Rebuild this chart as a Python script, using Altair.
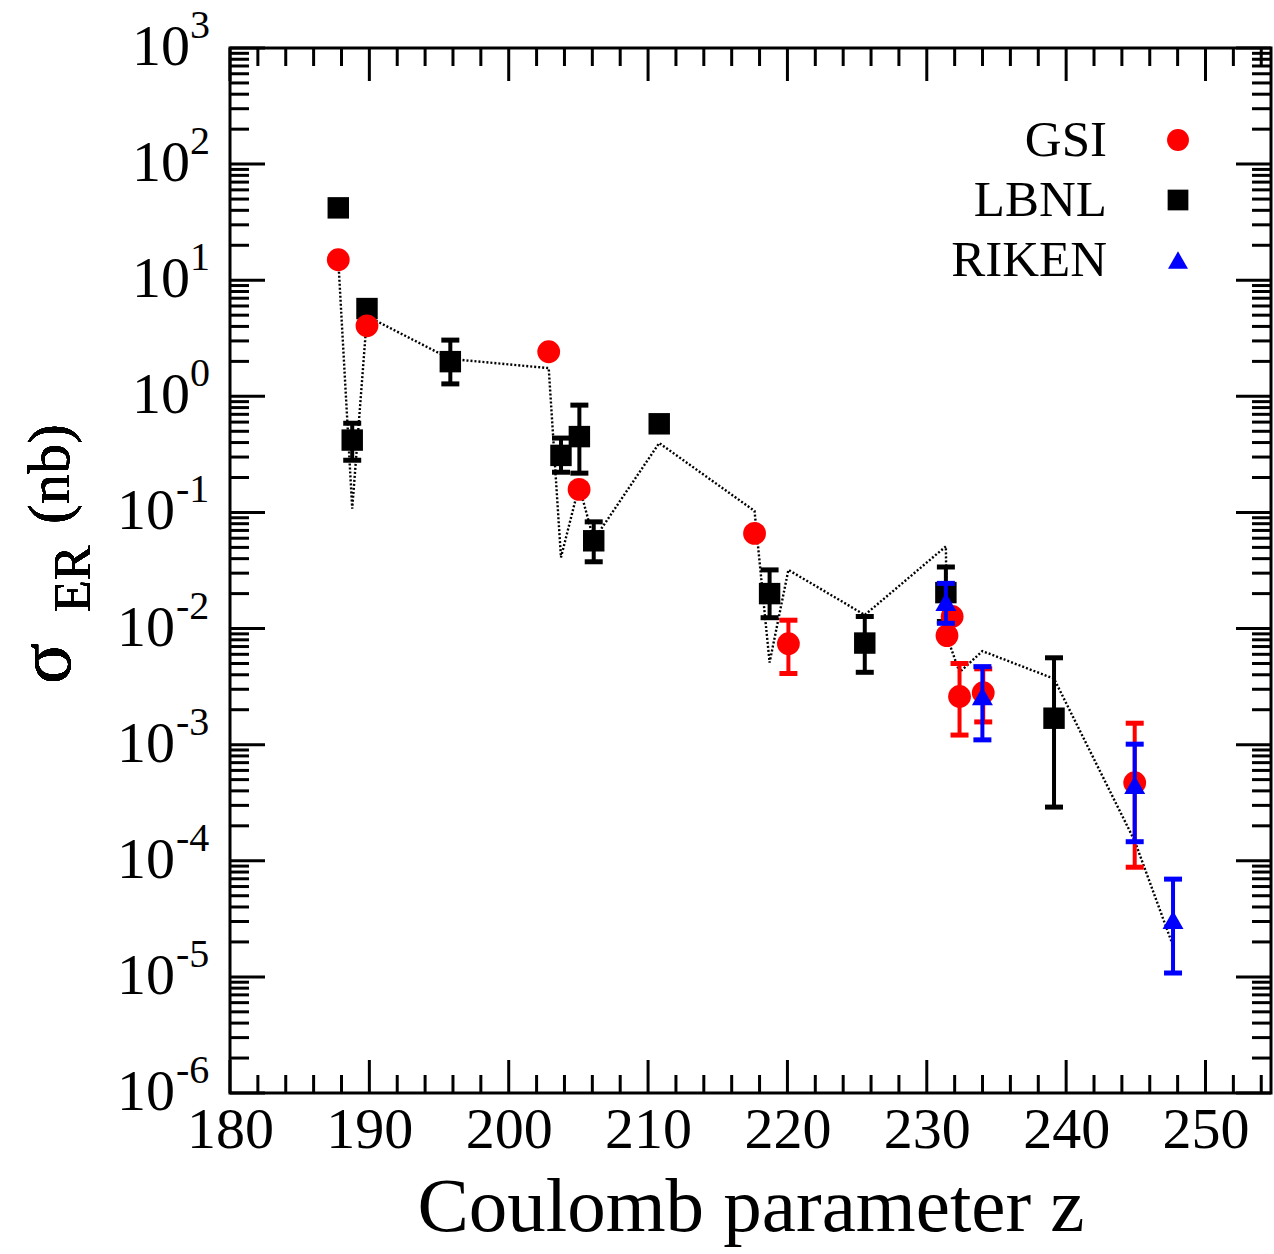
import altair as alt
import pandas as pd

# ---------------- data ----------------
gsi_z = [187.77, 189.83, 202.87, 205.05, 217.64, 220.07, 231.45, 231.82, 232.35, 234.05, 244.92]
gsi_sigma = [15.0, 4.05, 2.42, 0.158, 0.066, 0.0074, 0.0087, 0.0127, 0.0026, 0.0028, 0.00047]
gsi_lo = [None, None, None, None, None, 0.0041, None, None, 0.00121, 0.00157, 8.8e-5]
gsi_hi = [None, None, None, None, None, 0.0118, None, None, 0.0050, 0.0045, 0.00153]

lbnl_z = [187.77, 188.77, 189.83, 195.81, 203.75, 205.07, 206.1, 210.8, 218.72, 225.55, 231.37, 239.13]
lbnl_sigma = [42.0, 0.42, 5.7, 1.99, 0.31, 0.45, 0.057, 0.58, 0.0200, 0.0075, 0.0204, 0.00169]
lbnl_lo = [None, 0.282, None, 1.28, 0.222, 0.218, 0.0376, None, 0.0124, 0.0042, 0.0115, 0.00029]
lbnl_hi = [None, 0.585, None, 3.05, 0.437, 0.84, 0.083, None, 0.032, 0.0127, 0.0339, 0.0056]

riken_z = [231.37, 233.99, 244.92, 247.67]
riken_sigma = [0.0170, 0.00262, 0.00045, 3.1e-5]
riken_lo = [0.0111, 0.0011, 0.000146, 1.08e-5]
riken_hi = [0.0245, 0.0047, 0.00101, 6.95e-5]

theory_z = [187.77, 188.77, 189.83, 195.81, 202.87, 203.75, 205.05, 206.1, 210.8, 217.64,
            218.72, 220.07, 225.55, 231.37, 231.45, 232.35, 233.99, 239.13, 244.92, 247.67]
theory_sigma = [15.0, 0.108, 4.9, 2.1, 1.75, 0.041, 0.17, 0.058, 0.396, 0.103,
                0.0051, 0.032, 0.0131, 0.051, 0.0085, 0.0042, 0.0064, 0.0037, 0.000148, 1.85e-5]

x_major = [180, 190, 200, 210, 220, 230, 240, 250]
x_minor = [v for v in range(182, 255, 2) if v % 10 != 0]
y_exponents = [3, 2, 1, 0, -1, -2, -3, -4, -5, -6]
y_minor = [m * 10.0 ** k for k in range(-6, 3) for m in range(2, 10)]

legend_names = ["GSI", "LBNL", "RIKEN"]

# ---------------- layout ----------------
W, H = 1041, 1045
FONT = "Liberation Serif"
RED, BLACK, BLUE = "#ff0000", "#000000", "#0000ff"

xs = alt.Scale(domain=[180, 254.7], nice=False, zero=False)
ys = alt.Scale(type="log", domain=[1e-6, 1e3], nice=False)

x_axis = alt.Axis(values=x_major, format="d", labelFont=FONT, labelFontSize=58,
                  labelColor="black", labelPadding=8, labelFlush=False, labelOverlap=False,
                  ticks=False, domain=False, grid=False,
                  title="Coulomb parameter z", titleFont=FONT, titleFontSize=77,
                  titleFontWeight="normal", titleColor="black", titleY=137,
                  titleBaseline="alphabetic")


def X(field):
    return alt.X(field, type="quantitative", scale=xs, axis=x_axis)


def Y(field):
    return alt.Y(field, type="quantitative", scale=ys, axis=None)


def series_df(z, s, lo, hi):
    return pd.DataFrame({"z": z, "sigma": s, "lo": lo, "hi": hi})


def series_layers(df, color, shape, size):
    err = df.dropna(subset=["lo", "hi"])
    bars = alt.Chart(err).mark_rule(color=color, strokeWidth=4).encode(
        x=X("z"), y=Y("lo"), y2="hi")
    caps = alt.Chart(err).transform_fold(["lo", "hi"], as_=["k", "val"]).mark_tick(
        color=color, orient="horizontal", size=18, thickness=5, opacity=1).encode(
        x=X("z"), y=Y("val"))
    pts = alt.Chart(df).mark_point(shape=shape, filled=True, opacity=1, size=size,
                                   color=color).encode(x=X("z"), y=Y("sigma"))
    return [bars, caps, pts]


gsi = series_df(gsi_z, gsi_sigma, gsi_lo, gsi_hi)
lbnl = series_df(lbnl_z, lbnl_sigma, lbnl_lo, lbnl_hi)
riken = series_df(riken_z, riken_sigma, riken_lo, riken_hi)
theory = pd.DataFrame({"z": theory_z, "sigma": theory_sigma})

# ---------------- ticks (inward, all four sides) ----------------
xmaj = pd.DataFrame({"v": x_major})
xmin = pd.DataFrame({"v": x_minor})
ymaj = pd.DataFrame({"v": [10.0 ** k for k in y_exponents]})
ymin = pd.DataFrame({"v": y_minor})

tick_layers = []
for d, ln in [(xmaj, 33), (xmin, 18)]:
    tick_layers.append(alt.Chart(d).mark_rule(color="black", strokeWidth=3).encode(
        x=X("v"), y=alt.value(H), y2=alt.value(H - ln)))
    tick_layers.append(alt.Chart(d).mark_rule(color="black", strokeWidth=3).encode(
        x=X("v"), y=alt.value(0), y2=alt.value(ln)))
for d, ln in [(ymaj, 35), (ymin, 19)]:
    tick_layers.append(alt.Chart(d).mark_rule(color="black", strokeWidth=3).encode(
        y=Y("v"), x=alt.value(0), x2=alt.value(ln)))
    tick_layers.append(alt.Chart(d).mark_rule(color="black", strokeWidth=3).encode(
        y=Y("v"), x=alt.value(W), x2=alt.value(W - ln)))

# ---------------- y tick labels 10^k ----------------
ylab = pd.DataFrame({"v": [10.0 ** k for k in y_exponents],
                     "e": [str(k) for k in y_exponents],
                     "pos": [k >= 0 for k in y_exponents]})
ylab_pos = ylab[ylab["pos"]]
ylab_neg = ylab[~ylab["pos"]]

label_layers = []
for d, x_ten, x_exp in [(ylab_pos, -40, -40), (ylab_neg, -55, -54)]:
    label_layers.append(alt.Chart(d).mark_text(
        align="right", baseline="middle", font=FONT, fontSize=58, color="black").encode(
        y=Y("v"), x=alt.value(x_ten), text=alt.value("10")))
    label_layers.append(alt.Chart(d).mark_text(
        align="left", baseline="middle", font=FONT, fontSize=40, color="black", dy=-22).encode(
        y=Y("v"), x=alt.value(x_exp), text="e:N"))

# ---------------- y axis title: sigma_ER (nb) ----------------
title_layers = [
    alt.Chart(ymaj).mark_text(align="left", baseline="alphabetic", angle=270, font=FONT,
                              fontSize=76, color="black").encode(
        x=alt.value(-160), y=alt.value(636), text=alt.value("σ")),
    alt.Chart(ymaj).mark_text(align="left", baseline="alphabetic", angle=270, font=FONT,
                              fontSize=52, color="black").encode(
        x=alt.value(-140), y=alt.value(564), text=alt.value("ER")),
    alt.Chart(ymaj).mark_text(align="left", baseline="alphabetic", angle=270, font=FONT,
                              fontSize=60, color="black").encode(
        x=alt.value(-161), y=alt.value(476), text=alt.value("(nb)")),
]

# ---------------- legend ----------------
leg = pd.DataFrame({"name": legend_names})
legend_layers = []
for i, (name, color, shape, size) in enumerate([
        ("GSI", RED, "circle", 480), ("LBNL", BLACK, "square", 430),
        ("RIKEN", BLUE, "triangle-up", 400)]):
    yy = [93, 153, 213][i]
    legend_layers.append(alt.Chart(leg).transform_filter(alt.datum.name == name).mark_text(
        align="right", baseline="middle", font=FONT, fontSize=51, color="black").encode(
        x=alt.value(877), y=alt.value(yy), text="name:N"))
    legend_layers.append(alt.Chart(leg).transform_filter(alt.datum.name == name).mark_point(
        shape=shape, filled=True, opacity=1, size=size, color=color).encode(
        x=alt.value(948), y=alt.value(yy - 1)))

line = alt.Chart(theory).mark_line(color="black", strokeWidth=2.4, strokeDash=[2, 2]).encode(
    x=X("z"), y=Y("sigma"))

layers = (tick_layers + [line]
          + series_layers(lbnl, BLACK, "square", 460)
          + series_layers(gsi, RED, "circle", 520)
          + series_layers(riken, BLUE, "triangle-up", 440)
          + label_layers + title_layers + legend_layers)

chart = alt.layer(*layers).properties(
    width=W, height=H,
    autosize=alt.AutoSizeParams(type="none"),
    padding={"left": 230, "top": 48, "right": 3, "bottom": 161},
    background="white",
).configure_view(stroke="black", strokeWidth=3)

chart.save("out.html", embed_options={"renderer": "svg", "actions": False})
